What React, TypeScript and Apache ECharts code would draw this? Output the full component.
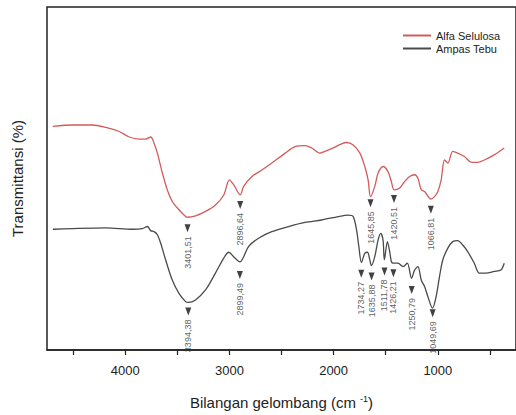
import React, { useEffect, useRef } from "react";
import * as echarts from "echarts";

// Wavenumber (cm-1) and transmittance (arbitrary %)
const alfaWave = [4694, 4503, 4312, 4185, 4057, 3962, 3866, 3803, 3755, 3723, 3691, 3643, 3596, 3548, 3484, 3420, 3401, 3325, 3229, 3134, 3054, 3000, 2959, 2895, 2863, 2783, 2688, 2593, 2465, 2370, 2274, 2210, 2131, 2083, 2019, 1924, 1876, 1812, 1748, 1701, 1669, 1646, 1605, 1573, 1525, 1478, 1446, 1420, 1366, 1319, 1271, 1223, 1191, 1159, 1127, 1067, 1032, 1000, 968, 936, 904, 857, 809, 745, 682, 618, 554, 459, 363];
const alfaT = [65.2, 65.6, 65.6, 64.9, 63.7, 62.1, 61.5, 61.5, 62.1, 60.3, 57.4, 51.6, 46.7, 43.3, 40.9, 38.9, 38.7, 39.1, 40.4, 42.3, 45.2, 49.6, 48.2, 45.2, 47.7, 50.6, 52.5, 54.5, 57.4, 59.3, 59.6, 58.9, 57.4, 57.9, 58.7, 60.1, 60.5, 59.8, 57.4, 53.5, 49.6, 44.7, 47.7, 51.6, 53.5, 52.0, 49.1, 46.7, 47.2, 49.1, 50.6, 51.1, 50.1, 46.7, 46.2, 44.0, 44.7, 46.2, 49.6, 55.4, 54.5, 57.9, 57.4, 56.4, 54.8, 54.7, 55.4, 56.9, 58.9];

const tebuWave = [4694, 4503, 4185, 3930, 3835, 3787, 3755, 3723, 3691, 3659, 3612, 3548, 3484, 3420, 3395, 3325, 3229, 3134, 3054, 3006, 2959, 2898, 2863, 2815, 2720, 2593, 2433, 2274, 2115, 1955, 1860, 1812, 1780, 1758, 1733, 1701, 1675, 1653, 1637, 1605, 1573, 1548, 1526, 1513, 1484, 1462, 1446, 1427, 1382, 1334, 1293, 1252, 1223, 1191, 1159, 1127, 1096, 1051, 1016, 984, 952, 904, 857, 809, 761, 714, 650, 602, 538, 459, 395, 363];
const tebuT = [35.2, 35.4, 35.6, 35.2, 35.4, 36.0, 34.8, 34.5, 33.6, 31.1, 26.3, 20.4, 16.5, 14.1, 13.9, 14.6, 17.5, 22.4, 26.8, 28.5, 27.2, 25.7, 27.2, 30.2, 32.6, 34.5, 36.0, 37.2, 37.9, 38.9, 39.3, 38.9, 35.0, 30.2, 25.5, 28.2, 28.5, 26.3, 24.6, 27.2, 32.1, 34.0, 32.1, 26.3, 31.6, 28.7, 25.8, 25.3, 25.3, 24.3, 25.3, 20.9, 23.3, 24.3, 20.4, 18.5, 15.6, 12.2, 15.6, 21.4, 26.3, 29.7, 31.6, 31.9, 30.6, 28.7, 25.3, 22.4, 22.4, 22.9, 23.3, 25.3];

// Peak annotations: wavenumber, arrow height, label
const alfaPeakWave = [3401.51, 2896.64, 1645.85, 1420.51, 1066.81];
const alfaPeakT = [35.5, 42.3, 42.8, 44.0, 40.9];
const alfaPeakLabel = ["3401,51", "2896,64", "1645,85", "1420,51", "1066,81"];

const tebuPeakWave = [3394.38, 2899.49, 1734.27, 1635.88, 1511.78, 1426.21, 1250.79, 1049.69];
const tebuPeakT = [11.2, 21.9, 22.2, 21.4, 22.9, 22.4, 17.5, 10.7];
const tebuPeakLabel = ["3394,38", "2899,49", "1734,27", "1635,88", "1511,78", "1426,21", "1250,79", "1049,69"];

const majorTicks = [4000, 3000, 2000, 1000];
const allTicks = [4500, 4000, 3500, 3000, 2500, 2000, 1500, 1000, 500];

const FONT = "'Liberation Sans', Arial, sans-serif";

export default function App() {
  const ref = useRef<HTMLDivElement>(null);
  useEffect(() => {
    if (!ref.current) return;
    const chart = echarts.init(ref.current, null, { renderer: "svg" });
    const zip = (a: number[], b: number[]) => a.map((v, i) => [v, b[i]]);
    const peaks = (w: number[], t: number[], l: string[]) => w.map((v, i) => [v, t[i], l[i]]);
    const peakSeries = (data: any[]) => ({
      type: "scatter",
      data,
      symbol: "triangle",
      symbolRotate: 180,
      symbolSize: [6, 8],
      itemStyle: { color: "#111" },
      silent: true,
      z: 5,
      label: {
        show: true,
        position: "bottom",
        rotate: 90,
        align: "right",
        verticalAlign: "middle",
        distance: 4,
        fontSize: 9,
        fontFamily: FONT,
        color: "#333",
        formatter: (p: any) => p.data[2],
      },
    });
    chart.setOption({
      animation: false,
      textStyle: { fontFamily: FONT },
      grid: {
        left: 47,
        right: -3,
        top: 7,
        bottom: 65,
        show: true,
        borderColor: "#222",
        borderWidth: 1.5,
      },
      legend: {
        orient: "vertical",
        left: 398,
        top: 25,
        itemGap: 2,
        itemWidth: 28,
        itemHeight: 2,
        icon: "rect",
        textStyle: { fontSize: 11, color: "#222", fontFamily: FONT },
        data: ["Alfa Selulosa", "Ampas Tebu"],
      },
      xAxis: {
        type: "value",
        inverse: true,
        min: 250,
        max: 4750,
        name: "Bilangan gelombang (cm {sup|-1})",
        nameLocation: "middle",
        nameGap: 44,
        nameTextStyle: {
          fontSize: 15,
          color: "#222",
          fontFamily: FONT,
          rich: { sup: { fontSize: 9, verticalAlign: "top", padding: [0, 0, 8, 0], color: "#222" } },
        },
        axisLine: { lineStyle: { color: "#222", width: 1.5 } },
        axisTick: { show: true, inside: false, length: 5, customValues: allTicks, lineStyle: { color: "#222", width: 1.2 } },
        axisLabel: {
          customValues: majorTicks,
          fontSize: 13,
          color: "#222",
          margin: 14,
          fontFamily: FONT,
          formatter: (v: number) => String(v),
        },
        splitLine: { show: false },
      },
      yAxis: {
        type: "value",
        min: 0,
        max: 100,
        name: "Transmittansi (%)",
        nameLocation: "middle",
        nameGap: 22,
        nameRotate: 90,
        nameTextStyle: { fontSize: 15, color: "#222", fontFamily: FONT },
        axisLine: { show: false },
        axisTick: { show: false },
        axisLabel: { show: false },
        splitLine: { show: false },
      },
      series: [
        {
          name: "Alfa Selulosa",
          type: "line",
          data: zip(alfaWave, alfaT),
          showSymbol: false,
          smooth: 0.3,
          lineStyle: { color: "#d35b5b", width: 1.3 },
          itemStyle: { color: "#d35b5b" },
        },
        {
          name: "Ampas Tebu",
          type: "line",
          data: zip(tebuWave, tebuT),
          showSymbol: false,
          smooth: 0.3,
          lineStyle: { color: "#4a4a4a", width: 1.3 },
          itemStyle: { color: "#4a4a4a" },
        },
        peakSeries(peaks(alfaPeakWave, alfaPeakT, alfaPeakLabel)),
        peakSeries(peaks(tebuPeakWave, tebuPeakT, tebuPeakLabel)),
      ],
    });
    return () => chart.dispose();
  }, []);
  return <div ref={ref} style={{ width: 516, height: 415, position: "absolute", left: 0, top: 0 }} />;
}
